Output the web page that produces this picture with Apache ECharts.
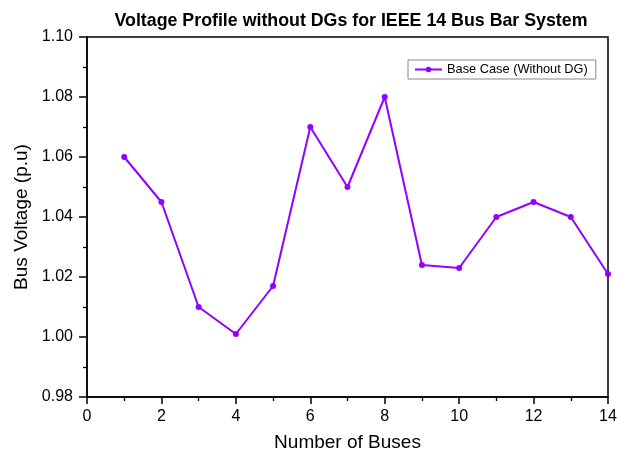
<!DOCTYPE html>
<html><head><meta charset="utf-8">
<script src="https://cdn.jsdelivr.net/npm/echarts@6/dist/echarts.min.js"></script>
<style>html,body{margin:0;padding:0;background:#fff}#c{width:617px;height:452px}</style>
</head><body><div id="c"></div>
<script>
const buses = [1,2,3,4,5,6,7,8,9,10,11,12,13,14];
const voltage = [1.060,1.045,1.010,1.001,1.017,1.070,1.050,1.080,1.024,1.023,1.040,1.045,1.040,1.021];
const seriesName = 'Base Case (Without DG)';
const titleText = 'Voltage Profile without DGs for IEEE 14 Bus Bar System';

const chart = echarts.init(document.getElementById('c'));
const font = 'Liberation Sans, Arial, sans-serif';
chart.setOption({
  animation:false,
  title:{text:titleText,left:346,top:7,textAlign:'center',textStyle:{fontFamily:font,fontWeight:'bold',fontSize:17.8,color:'#000'}},
  legend:{data:[seriesName],left:408,top:60,itemWidth:27,itemHeight:7,itemGap:5,padding:[3,8,3,6],borderColor:'#888',borderWidth:1,borderRadius:0,
    textStyle:{fontFamily:font,fontSize:12.8,color:'#000'}},
  grid:{left:87,right:9,top:37,bottom:55,show:true,borderColor:'#000',borderWidth:1.5,outerBoundsMode:'none',containLabel:false},
  xAxis:{type:'value',min:0,max:14,interval:2,
    name:'Number of Buses',nameLocation:'middle',nameGap:36,nameTextStyle:{fontFamily:font,fontSize:19,color:'#000'},
    axisLine:{show:true,onZero:false,lineStyle:{color:'#000',width:1.5}},
    axisTick:{show:true,inside:false,length:7,lineStyle:{color:'#000',width:1.5}},
    minorTick:{show:true,splitNumber:2,length:4,lineStyle:{color:'#000',width:1.3}},
    axisLabel:{fontFamily:font,fontSize:16,color:'#000',margin:12},
    splitLine:{show:false}},
  yAxis:{type:'value',min:0.98,max:1.10,interval:0.02,
    name:'Bus Voltage (p.u)',nameLocation:'middle',nameGap:56,nameTextStyle:{fontFamily:font,fontSize:19,color:'#000'},
    axisLine:{show:true,lineStyle:{color:'#000',width:1.5}},
    axisTick:{show:true,inside:false,length:8,lineStyle:{color:'#000',width:1.5}},
    minorTick:{show:true,splitNumber:2,length:4,lineStyle:{color:'#000',width:1.3}},
    axisLabel:{fontFamily:font,fontSize:16,color:'#000',margin:14,formatter:v=>v.toFixed(2)},
    splitLine:{show:false}},
  series:[{name:seriesName,type:'line',data:buses.map((b,i)=>[b,voltage[i]]),
    symbol:'circle',symbolSize:6,color:'#9400FF',lineStyle:{width:2,color:'#9400FF'},itemStyle:{color:'#9400FF'}}]
});
</script></body></html>
